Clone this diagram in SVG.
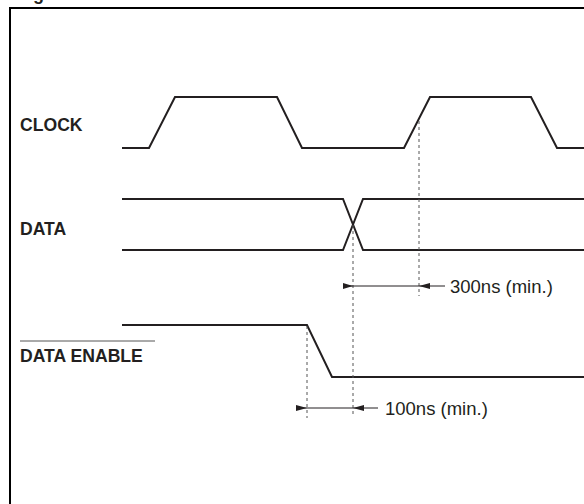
<svg xmlns="http://www.w3.org/2000/svg" width="584" height="504" viewBox="0 0 584 504">
  <style>
    .wave { fill: none; stroke: #231f20; stroke-width: 2; stroke-linejoin: miter; }
    .dash { fill: none; stroke: #555; stroke-width: 1; stroke-dasharray: 3 3; }
    .dim { fill: none; stroke: #231f20; stroke-width: 1; }
    .head { fill: #231f20; stroke: none; }
    .label { font-family: "Liberation Sans", Arial, sans-serif; font-weight: bold; font-size: 17.6px; fill: #231f20; }
    .note { font-family: "Liberation Sans", Arial, sans-serif; font-size: 18.5px; fill: #231f20; }
  </style>
  <rect x="0" y="0" width="584" height="504" fill="#fff"/>
  <text class="label" x="33" y="0" style="font-size:18px">g</text>
  <path d="M10,504 V8 H584" fill="none" stroke="#000" stroke-width="2"/>

  <g id="clock">
    <text class="label" x="20" y="131">CLOCK</text>
    <path class="wave" d="M122,148 H149 L175,97 H277 L302,148 H404 L430,97 H531 L557,148 H584"/>
  </g>

  <g id="data">
    <text class="label" x="20" y="235">DATA</text>
    <path class="wave" d="M122,199 H343 L363,250 H584"/>
    <path class="wave" d="M122,250 H343 L363,199 H584"/>
  </g>

  <g id="data-enable">
    <line x1="20" y1="341" x2="155" y2="341" stroke="#555" stroke-width="1"/>
    <text class="label" x="20" y="361.5">DATA ENABLE</text>
    <path class="wave" d="M122,325 H307 L332,377 H584"/>
  </g>

  <g id="connectors">
    <line class="dash" x1="419" y1="121" x2="419" y2="296"/>
    <line class="dash" x1="353" y1="225" x2="353" y2="416"/>
    <line class="dash" x1="307" y1="326" x2="307" y2="418"/>

    <line class="dim" x1="343" y1="286" x2="445" y2="286"/>
    <polygon class="head" points="343,283 353,286 343,289"/>
    <polygon class="head" points="430,283 419,286 430,289"/>

    <line class="dim" x1="296" y1="408" x2="378" y2="408"/>
    <polygon class="head" points="296,405 307,408 296,411"/>
    <polygon class="head" points="364,405 353,408 364,411"/>
  </g>

  <g id="timing-labels">
    <text class="note" x="450" y="292.5">300ns (min.)</text>
    <text class="note" x="385" y="415">100ns (min.)</text>
  </g>
</svg>
